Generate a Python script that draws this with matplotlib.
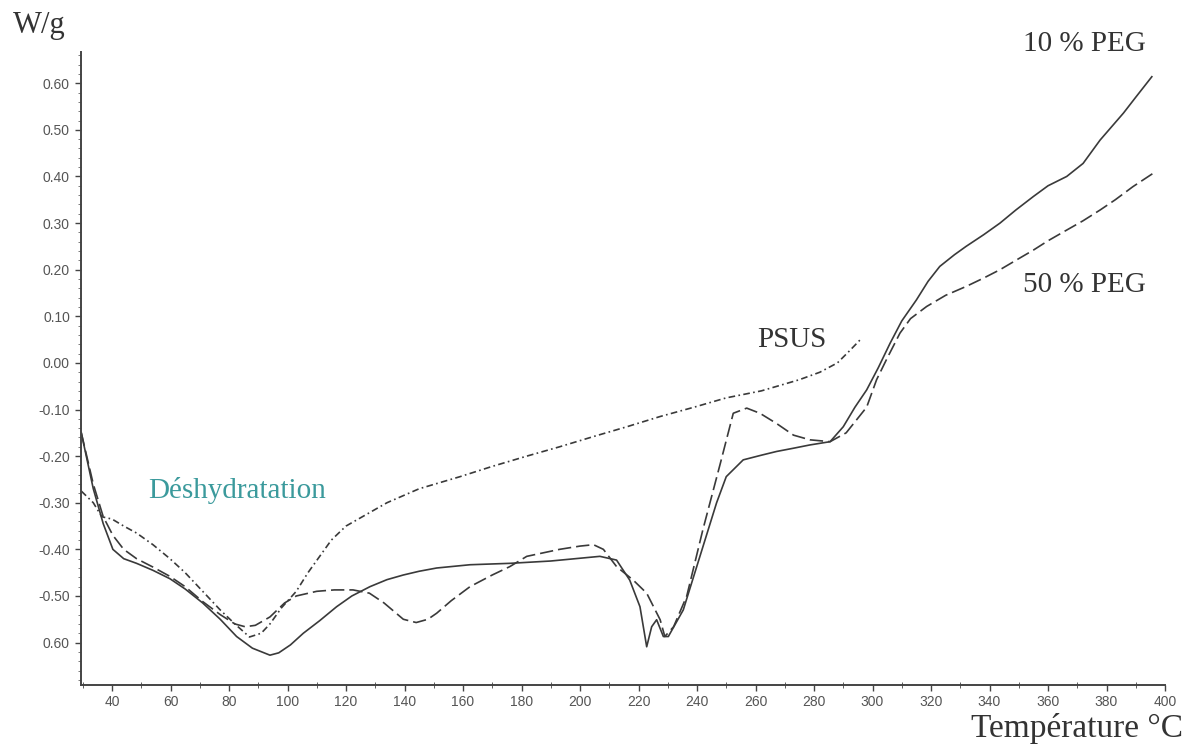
import matplotlib.pyplot as plt
from matplotlib.ticker import MultipleLocator

# DSC curves (temperature in degC, heat flow in W/g)
t_peg10 = [29.5, 33.6, 37, 40.3, 44, 48.4, 54, 59.8, 65, 71, 77, 82.6, 88, 94, 97, 101,
           105.4, 111, 116.8, 122, 128.2, 134, 139.6, 145, 151, 162.4, 176, 190, 206.8,
           212.5, 217, 220.5, 222.8, 224.5, 226.2, 228.5, 230.2, 235.3, 241, 246.7, 250,
           255.8, 262, 267.2, 273, 278.6, 285.5, 290, 294, 298, 302, 306, 310, 315, 319,
           323, 328, 332, 338, 343.6, 349, 355, 360, 366.4, 372, 377.8, 385.8, 390, 395.5]
w_peg10 = [-0.15, -0.27, -0.345, -0.40, -0.42, -0.43, -0.445, -0.463, -0.485, -0.515,
           -0.55, -0.587, -0.612, -0.627, -0.622, -0.605, -0.58, -0.553, -0.523, -0.50,
           -0.48, -0.465, -0.455, -0.447, -0.44, -0.433, -0.43, -0.425, -0.415, -0.423,
           -0.466, -0.523, -0.609, -0.566, -0.551, -0.587, -0.587, -0.53, -0.415, -0.30,
           -0.244, -0.208, -0.198, -0.19, -0.183, -0.176, -0.169, -0.137, -0.095, -0.058,
           -0.01, 0.042, 0.09, 0.135, 0.175, 0.207, 0.232, 0.25, 0.275, 0.30, 0.328, 0.357,
           0.38, 0.40, 0.428, 0.478, 0.536, 0.57, 0.614]

t_peg50 = [29.5, 33.6, 37, 40.3, 44, 48.4, 54, 59.8, 65, 71, 77, 82, 85.5, 89, 94, 99, 103,
           110, 116, 122.4, 128, 133, 139.6, 144, 148, 151, 156, 162.4, 170, 176, 181.8,
           193, 200, 204.6, 208, 212.5, 218.2, 222.8, 227.4, 229, 232, 236.5, 242, 248,
           252.4, 257, 261.5, 267.2, 273, 278.6, 285.5, 291, 298, 301.4, 305, 309.4, 313,
           318.5, 325, 332, 338, 343.6, 349, 355, 360, 366.4, 372, 377.8, 383, 389, 396]
w_peg50 = [-0.15, -0.26, -0.33, -0.37, -0.40, -0.42, -0.438, -0.458, -0.48, -0.512, -0.54,
           -0.56, -0.566, -0.563, -0.545, -0.515, -0.50, -0.49, -0.487, -0.487, -0.494,
           -0.515, -0.55, -0.557, -0.55, -0.537, -0.51, -0.48, -0.455, -0.437, -0.415,
           -0.40, -0.393, -0.39, -0.40, -0.437, -0.466, -0.494, -0.551, -0.587, -0.566,
           -0.50, -0.358, -0.215, -0.108, -0.097, -0.108, -0.13, -0.155, -0.165, -0.169,
           -0.15, -0.095, -0.036, 0.01, 0.064, 0.095, 0.121, 0.145, 0.164, 0.182, 0.20,
           0.22, 0.242, 0.262, 0.285, 0.305, 0.328, 0.35, 0.378, 0.407]

t_psus = [29.5, 33.6, 36.5, 40, 44, 48.4, 54, 59.8, 65, 71, 77, 82, 87, 91, 94, 98, 103,
          107, 111, 115, 120, 127, 134, 145, 159, 170, 181.8, 193, 204.6, 216, 227.4, 239,
          250, 262, 275, 282, 288, 292, 295.7]
w_psus = [-0.275, -0.30, -0.33, -0.335, -0.35, -0.365, -0.39, -0.42, -0.45, -0.49, -0.53,
          -0.56, -0.588, -0.58, -0.56, -0.525, -0.49, -0.45, -0.415, -0.38, -0.35, -0.325,
          -0.30, -0.27, -0.244, -0.222, -0.20, -0.18, -0.158, -0.137, -0.115, -0.095,
          -0.075, -0.06, -0.036, -0.02, 0.0, 0.025, 0.049]

x_ticks = list(range(40, 401, 20))
y_ticks = [0.6, 0.5, 0.4, 0.3, 0.2, 0.1, 0.0, -0.1, -0.2, -0.3, -0.4, -0.5, -0.6]
y_labels = ['0.60', '0.50', '0.40', '0.30', '0.20', '0.10', '0.00',
            '-0.10', '-0.20', '-0.30', '-0.40', '-0.50', '0.60']

line_col = '#3a3a3a'
serif = 'Liberation Serif'

fig = plt.figure(figsize=(11.9, 7.45), dpi=100)
ax = fig.add_axes([81 / 1190, 1 - 685 / 745, (1165 - 81) / 1190, (685 - 52) / 745])

ax.plot(t_peg10, w_peg10, color=line_col, lw=1.2)
ax.plot(t_peg50, w_peg50, color=line_col, lw=1.2, dashes=(8, 3))
ax.plot(t_psus, w_psus, color=line_col, lw=1.2, dashes=(4, 2, 1, 2))

ax.set_xlim(29.4, 400)
ax.set_ylim(-0.691, 0.667)

for side in ['top', 'right']:
    ax.spines[side].set_visible(False)
for side in ['left', 'bottom']:
    ax.spines[side].set_color('#444444')
    ax.spines[side].set_linewidth(1.4)

ax.set_xticks(x_ticks)
ax.xaxis.set_minor_locator(MultipleLocator(10))
ax.set_yticks(y_ticks)
ax.set_yticklabels(y_labels)
ax.yaxis.set_minor_locator(MultipleLocator(0.02))
ax.tick_params(axis='both', which='major', labelsize=10, labelcolor='#555555',
               color='#444444', length=4, width=1)
ax.tick_params(axis='x', which='minor', direction='inout', length=4, color='#444444')
ax.tick_params(axis='y', which='minor', length=2, color='#666666')
ax.tick_params(axis='x', which='major', pad=3)
ax.tick_params(axis='y', which='major', pad=4)
for lab in ax.get_xticklabels() + ax.get_yticklabels():
    lab.set_fontfamily('Liberation Sans')

# annotations
ax.text(52.3, -0.273, 'Déshydratation', fontsize=21, family=serif, color='#3b9a9c',
        ha='left', va='center')
ax.text(260.5, 0.049, 'PSUS', fontsize=21, family=serif, color='#333333',
        ha='left', va='center')
ax.text(351.5, 0.685, '10 % PEG', fontsize=21, family=serif, color='#333333',
        ha='left', va='center', clip_on=False)
ax.text(351.5, 0.167, '50 % PEG', fontsize=21, family=serif, color='#333333',
        ha='left', va='center')

fig.text(13 / 1190, 1 - 33 / 745, 'W/g', fontsize=22, family=serif, color='#333333',
         ha='left', va='baseline')
fig.text(1183 / 1190, 1 - 737 / 745, 'Température °C', fontsize=24, family=serif,
         color='#333333', ha='right', va='baseline')

fig.savefig('out.png', dpi=100)
